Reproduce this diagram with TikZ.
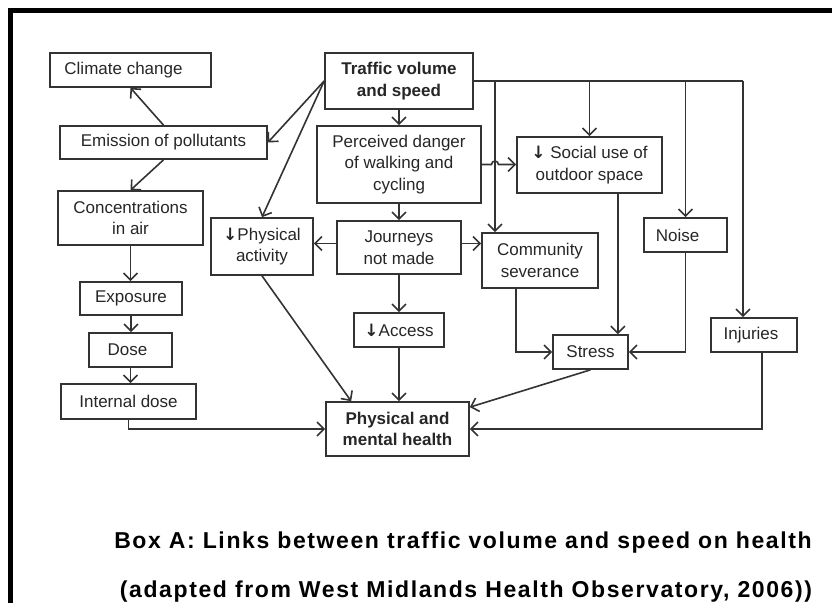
\documentclass[tikz,border=0pt]{standalone}
\usepackage{fontspec}
\setmainfont{Liberation Sans}
\newfontfamily\arrfont{DejaVu Sans}
\usetikzlibrary{arrows.meta,calc}
\begin{document}
\begin{tikzpicture}[x=1pt,y=-1pt,
  box/.style={draw=black!80,line width=1.7pt,inner sep=0pt,align=center,
    font=\fontsize{17}{21.5}\selectfont,text=black!85},
  arr/.style={draw=black!80,line width=1.6pt,-{Straight Barb[length=7pt,width=14pt]}},
  ln/.style={draw=black!80,line width=1.6pt},
  captxt/.style={anchor=base,inner sep=0pt,font=\fontsize{23}{27}\selectfont\bfseries\addfontfeatures{LetterSpace=7}}]
\useasboundingbox (0,0) rectangle (832,603);
\draw[line width=4.5pt] (10.5,603) -- (10.5,10.5) -- (832,10.5);

% left column
\node[box,minimum width=161pt,minimum height=34pt] (clim) at (130.5,70) {Climate change\hspace*{14pt}};
\node[box,minimum width=207pt,minimum height=33pt] (emis) at (163.5,142.5) {Emission of pollutants};
\node[box,minimum width=145pt,minimum height=54pt] (conc) at (130.5,218) {Concentrations\\in air};
\node[box,minimum width=102pt,minimum height=33pt] (expo) at (131,298.5) {Exposure};
\node[box,minimum width=83pt,minimum height=34pt] (dose) at (130.5,350) {Dose\hspace*{6pt}};
\node[box,minimum width=135pt,minimum height=35pt] (intd) at (128.5,401.5) {Internal dose};

% middle
\node[box,minimum width=148pt,minimum height=56pt,font=\fontsize{17}{21.5}\selectfont\bfseries] (traf) at (399,81) {Traffic volume\\and speed};
\node[box,minimum width=164pt,minimum height=77pt] (perc) at (399,164.5) {Perceived danger\\of walking and\\cycling};
\node[box,minimum width=124pt,minimum height=53pt] (jour) at (399,247.5) {Journeys\\not made};
\node[box,minimum width=102pt,minimum height=57pt] (phys) at (262,246.5) {{\arrfont\bfseries ↓}Physical\\activity};
\node[box,minimum width=90pt,minimum height=34pt] (acc) at (399,330) {{\arrfont\bfseries ↓}Access};
\node[box,minimum width=143pt,minimum height=54pt,font=\fontsize{17}{21.5}\selectfont\bfseries] (hlth) at (397.5,429) {Physical and\\mental health};

% right
\node[box,minimum width=145pt,minimum height=56pt] (soc) at (589.5,165) {{\arrfont\bfseries ↓} Social use of\\outdoor space};
\node[box,minimum width=116pt,minimum height=55pt] (comm) at (540,260.5) {Community\\severance};
\node[box,minimum width=83pt,minimum height=34pt] (noise) at (685.5,235) {Noise\hspace*{16pt}};
\node[box,minimum width=75pt,minimum height=34pt] (stress) at (590.5,352) {Stress};
\node[box,minimum width=86pt,minimum height=34pt] (inj) at (754,335) {Injuries\hspace*{6pt}};

% branch points on the line leaving Traffic
\coordinate (b1) at (495,81);
\coordinate (b2) at (589.5,81);
\coordinate (b3) at (685.5,81);
\coordinate (b4) at (743,81);

% left chain
\draw[arr] (emis.north) -- (clim.south);
\draw[arr] (emis.south) -- (conc.north);
\draw[arr] (conc.south) -- (conc.south |- expo.north);
\draw[arr] (expo.south) -- (expo.south |- dose.north);
\draw[arr] (dose.south) -- (dose.south |- intd.north);
\draw[arr] (intd.south) |- (hlth.west);

% from traffic
\draw[arr] (traf.west) -- (emis.east);
\draw[arr] (traf.west) -- (phys.north);
\draw[arr] (traf.south) -- (perc.north);
\draw[ln] (traf.east) -- (b4);
\draw[arr] (b1) -- (b1 |- comm.north);
\draw[arr] (b2) -- (soc.north);
\draw[arr] (b3) -- (noise.north);
\draw[arr] (b4) -- (b4 |- inj.north);

% perceived danger
\draw[arr] (perc.east) -- ($(b1 |- perc.east)+(-3.5,0)$) arc[start angle=180,end angle=0,radius=3.5pt] -- (soc.west |- perc.east);
\draw[arr] (perc.south) -- (jour.north);

% journeys
\coordinate (jl) at ($(jour.west)+(0,-4)$);
\coordinate (jr) at ($(jour.east)+(0,-4)$);
\draw[arr] (jl) -- (phys.east |- jl);
\draw[arr] (jr) -- (comm.west |- jr);
\draw[arr] (jour.south) -- (acc.north);
\draw[arr] (acc.south) -- (hlth.north -| acc.south);

% to health
\draw[arr] (phys.south) -- ($(hlth.north west)+(26,0)$);
\draw[arr] (stress.south) -- ($(hlth.north east)+(0,6)$);
\draw[arr] ($(inj.south)+(8,0)$) |- (hlth.east);

% to stress
\coordinate (sx) at ($(stress.north east)+(-11,0)$);
\draw[arr] (soc.south -| sx) -- (sx);
\draw[arr] ($(comm.south west)+(35,0)$) |- (stress.west);
\draw[arr] (noise.south) |- (stress.east);

% caption
\node[captxt] (c1) at (463,548) {Box A: Links between traffic volume and speed on health};
\node[captxt] (c2) at (466,597) {(adapted from West Midlands Health Observatory, 2006))};
\end{tikzpicture}
\end{document}
